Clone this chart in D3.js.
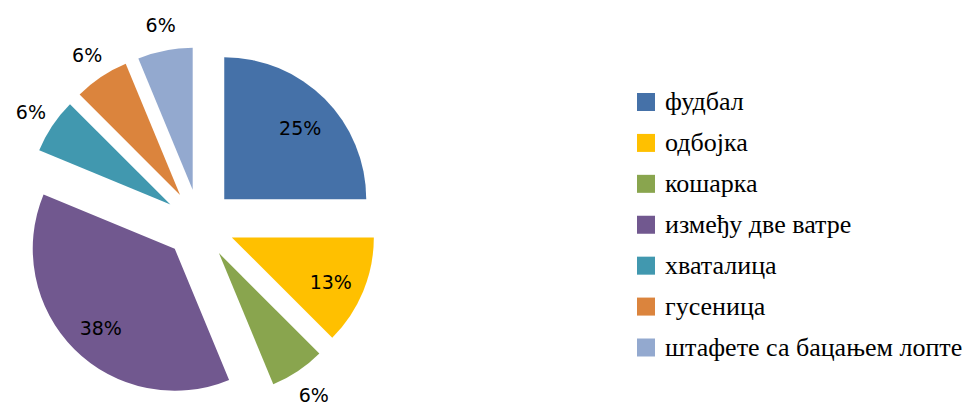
<!DOCTYPE html>
<html>
<head>
<meta charset="utf-8">
<script src="https://cdn.jsdelivr.net/npm/d3@7/dist/d3.min.js"></script>
<style>
  html, body { margin: 0; padding: 0; background: #fff; }
  svg { display: block; }
</style>
</head>
<body>
<svg id="chart" width="969" height="405"></svg>
<script>
// Data
const categories = ["фудбал", "одбојка", "кошарка", "између две ватре", "хваталица", "гусеница", "штафете са бацањем лопте"];
const counts = [4, 2, 1, 6, 1, 1, 1];
const percentLabels = ["25%", "13%", "6%", "38%", "6%", "6%", "6%"];
const colors = ["#4571A8", "#FFC000", "#89A54E", "#71588F", "#4198AF", "#DB843D", "#93A9CF"];
const labelInside = [true, true, false, true, false, false, false];

const svg = d3.select("#chart");
const cx = 199.5, cy = 224, r = 142, explode = 35;

const pie = d3.pie().sort(null).value(d => d).startAngle(0).endAngle(2 * Math.PI);
const arcs = pie(counts);
const arcGen = d3.arc().innerRadius(0).outerRadius(r);

const g = svg.append("g").attr("transform", `translate(${cx},${cy})`);

arcs.forEach((a, i) => {
  const mid = (a.startAngle + a.endAngle) / 2;
  const ux = Math.sin(mid), uy = -Math.cos(mid);
  const ox = ux * explode, oy = uy * explode;
  const sg = g.append("g").attr("transform", `translate(${ox},${oy})`);
  sg.append("path").attr("d", arcGen(a)).attr("fill", colors[i]);
  const dist = labelInside[i] ? 106 : r + 27;
  sg.append("text")
    .attr("x", ux * dist + 1)
    .attr("y", uy * dist + (labelInside[i] ? 4 : 1))
    .attr("text-anchor", "middle")
    .attr("dominant-baseline", "central")
    .attr("font-family", "DejaVu Sans, Verdana, sans-serif")
    .attr("font-size", 19)
    .attr("fill", "#000")
    .text(percentLabels[i]);
});

// Legend
const legend = svg.append("g");
const legendY = d3.scalePoint().domain(categories).range([102, 347.5]);
categories.forEach((c, i) => {
  const y = legendY(c);
  legend.append("rect")
    .attr("x", 637).attr("y", y - 9).attr("width", 18).attr("height", 18)
    .attr("fill", colors[i]);
  legend.append("text")
    .attr("x", 665).attr("y", y + 8)
    .attr("font-family", "Liberation Serif, Times New Roman, serif")
    .attr("font-size", 26)
    .attr("fill", "#000")
    .text(c);
});
</script>
</body>
</html>
